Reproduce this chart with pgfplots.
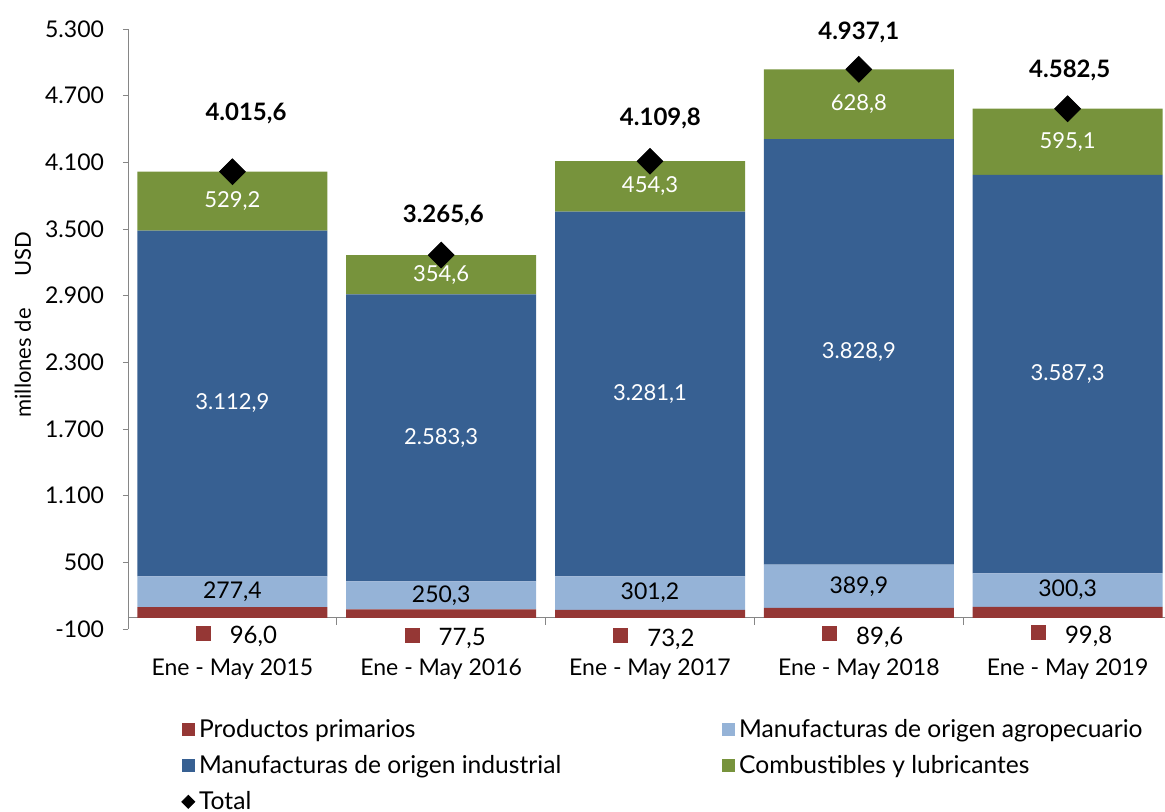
\documentclass[border=0pt]{standalone}
\usepackage{pgfplots}
\usepackage{pgfplotstable}
\pgfplotsset{compat=1.18}
\usepackage{fontspec}
\setmainfont{Lato}

\definecolor{ppred}{HTML}{953735}
\definecolor{malight}{HTML}{95B3D7}
\definecolor{midark}{HTML}{376092}
\definecolor{clgreen}{HTML}{77933C}
\definecolor{axgray}{HTML}{868686}

% exportaciones por rubro, millones de USD (lx, ly: posicion de la etiqueta del total)
\pgfplotstableread{
x pp   ma    mi     cl    total  lx    ly
1 96.0 277.4 3112.9 529.2 4015.6 1.065 4544
2 77.5 250.3 2583.3 354.6 3265.6 2.01  3626
3 73.2 301.2 3281.1 454.3 4109.8 3.05  4499
4 89.6 389.9 3828.9 628.8 4937.1 4.0   5273
5 99.8 300.3 3587.3 595.1 4582.5 5.01  4931
}\exports

\pgfkeys{/pgf/number format/.cd, fixed, fixed zerofill, precision=1,
  use comma, 1000 sep={.}, assume math mode=true}

\pgfplotsset{
  base/.style={
    at={(0,0)}, anchor=south west,
    scale only axis, width=522pt, height=300pt,
    xmin=0.5, xmax=5.5, ymin=-100, ymax=5300,
    enlargelimits=false,
  },
  sqlegend/.style={legend image code/.code={\fill[##1] (0pt,-3.25pt) rectangle (6.5pt,3.25pt);}},
  lbl/.style={forget plot, draw=none, point meta=explicit,
    nodes near coords, nodes near coords align=center},
}

\begin{document}
\begin{tikzpicture}
\useasboundingbox (-64pt,-91.5pt) rectangle (518.5pt,314.5pt);

\begin{axis}[base,
  ybar stacked, bar width=95pt,
  axis y line*=left, axis x line*=middle,
  axis line style={axgray},
  ytick={-100,500,...,5300},
  scaled y ticks=false,
  ytick style={axgray}, tick align=outside, major tick length=2.5pt,
  xtick={1,...,5},
  xticklabels={Ene - May 2015, Ene - May 2016, Ene - May 2017, Ene - May 2018, Ene - May 2019},
  xtick style={draw=none},
  yticklabel style={font=\fontsize{11.5}{13}\selectfont, xshift=-6pt,
    /pgf/number format/.cd, fixed, precision=0, use comma, 1000 sep={.}},
  xticklabel style={font=\fontsize{11.5}{13}\selectfont, anchor=center, yshift=-23.25pt},
  ylabel={\mbox{millones de\hspace{16pt}USD}},
  ylabel style={font=\fontsize{11}{13}\selectfont, at={(axis description cs:-0.1006,0.5075)}, anchor=center},
]
\addplot[fill=ppred, draw=none] table[x=x, y=pp]{\exports};
\addplot[fill=malight, draw=none] table[x=x, y=ma]{\exports};
\addplot[fill=midark, draw=none] table[x=x, y=mi]{\exports};
\addplot[fill=clgreen, draw=none] table[x=x, y=cl]{\exports};
\pgfplotsinvokeforeach{1.5,2.5,3.5,4.5}{\draw[axgray] (axis cs:#1,0) -- ++(0pt,-3.5pt);}
\end{axis}

\begin{axis}[base, hide axis, clip=false,
  legend columns=2,
  legend cell align=left,
  legend style={at={(axis description cs:0.045,-0.136)}, anchor=north west,
    draw=none, fill=none, font=\fontsize{12.3}{14}\selectfont,
    row sep=3.5pt},
]
\addlegendimage{sqlegend, fill=ppred, draw=none}
\addlegendentry{\makebox[259.5pt][l]{Productos primarios}}
\addlegendimage{sqlegend, fill=malight, draw=none}
\addlegendentry{Manufacturas de origen agropecuario}
\addlegendimage{sqlegend, fill=midark, draw=none}
\addlegendentry{\makebox[259.5pt][l]{Manufacturas de origen industrial}}
\addlegendimage{sqlegend, fill=clgreen, draw=none}
\addlegendentry{Combustibles y lubricantes}

\addplot[only marks, mark=square*, mark size=4.55pt,
  mark options={rotate=45, fill=black, draw=black},
  legend image code/.code={\fill[black] (0pt,0pt) -- (3.25pt,3.25pt) -- (6.5pt,0pt) -- (3.25pt,-3.25pt) -- cycle;}]
  table[x=x, y=total]{\exports};
\addlegendentry{Total}

% etiquetas de valores
\addplot[lbl, nodes near coords={\textcolor{ppred}{\raisebox{1.5pt}{\rule{7.5pt}{7.5pt}}}\hspace{9.5pt}\pgfmathprintnumber\pgfplotspointmeta},
  every node near coord/.append style={font=\fontsize{12}{14}\selectfont, text=black, yshift=-14.5pt, xshift=2pt}]
  table[x=x, y=pp, meta=pp]{\exports};
\addplot[lbl, every node near coord/.append style={font=\fontsize{11.5}{13}\selectfont, text=black}]
  table[x=x, y expr=\thisrow{pp}+\thisrow{ma}/2, meta=ma]{\exports};
\addplot[lbl, every node near coord/.append style={font=\fontsize{11}{13}\selectfont, text=white}]
  table[x=x, y expr=\thisrow{pp}+\thisrow{ma}+\thisrow{mi}/2, meta=mi]{\exports};
\addplot[lbl, every node near coord/.append style={font=\fontsize{11}{13}\selectfont, text=white}]
  table[x=x, y expr=\thisrow{pp}+\thisrow{ma}+\thisrow{mi}+\thisrow{cl}/2, meta=cl]{\exports};
\addplot[lbl, every node near coord/.append style={font=\bfseries\fontsize{12}{14}\selectfont, text=black}]
  table[x=lx, y=ly, meta=total]{\exports};
\end{axis}
\end{tikzpicture}
\end{document}
